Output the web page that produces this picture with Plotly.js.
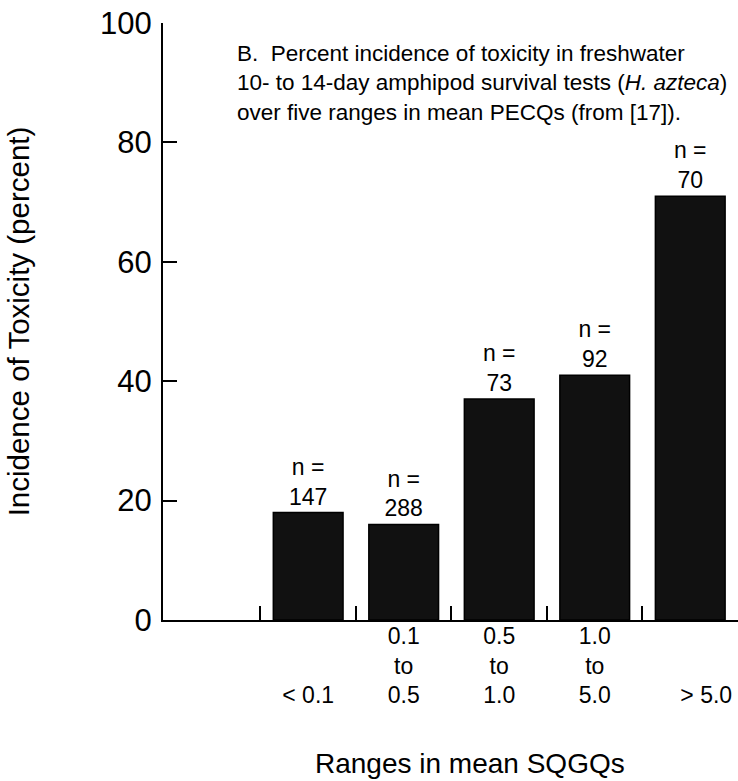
<!DOCTYPE html>
<html>
<head>
<meta charset="utf-8">
<script src="https://cdn.plot.ly/plotly-3.0.1.min.js"></script>
<style>html,body{margin:0;padding:0;background:#fff;}#chart{width:738px;height:781px;}</style>
</head>
<body>
<div id="chart"></div>
<script>
// Data
const categories = ["<0.1", "0.1-0.5", "0.5-1.0", "1.0-5.0", ">5.0"];
const tickLabels = ["<br><br>< 0.1", "0.1<br>to<br>0.5", "0.5<br>to<br>1.0", "1.0<br>to<br>5.0", "<br><br>\u00a0\u00a0\u00a0\u00a0\u00a0> 5.0"];
const incidence = [18, 16, 37, 41, 71];
const nSamples = [147, 288, 73, 92, 70];
const barText = nSamples.map(n => "n =<br>" + n);
const xTitle = "Ranges in mean SQGQs";
const yTitle = "Incidence of Toxicity (percent)";
const panelNote = "B.  Percent incidence of toxicity in freshwater<br>10- to 14-day amphipod survival tests (<i>H. azteca</i>)<br>over five ranges in mean PECQs (from [17]).";

const FONT = "Liberation Sans, Arial, Helvetica, sans-serif";

const trace = {
  type: "bar",
  x: categories,
  y: incidence,
  width: 0.73,
  marker: {color: "#111111", line: {color: "#000000", width: 1.5}},
  text: barText,
  textposition: "outside",
  textfont: {family: FONT, size: 23, color: "#000"},
  cliponaxis: false,
  constraintext: "none",
  hoverinfo: "none"
};

const layout = {
  width: 738, height: 781,
  margin: {l: 163, r: 0, t: 23, b: 161, pad: 0},
  paper_bgcolor: "#fff", plot_bgcolor: "#fff",
  showlegend: false,
  font: {family: FONT, color: "#000"},
  xaxis: {
    type: "category",
    range: [-1.52, 4.5],
    tickmode: "array",
    tickvals: categories,
    ticktext: tickLabels,
    tickson: "boundaries",
    ticks: "inside", ticklen: 14, tickwidth: 2, tickcolor: "#000",
    showline: true, linecolor: "#000", linewidth: 2,
    showgrid: false, zeroline: false,
    tickfont: {family: FONT, size: 23, color: "#000"},
    ticklabelstandoff: -6
  },
  yaxis: {
    range: [0, 100],
    tickvals: [0, 20, 40, 60, 80, 100],
    ticks: "inside", ticklen: 14, tickwidth: 2, tickcolor: "#000",
    showline: true, linecolor: "#000", linewidth: 2,
    showgrid: false, zeroline: false,
    tickfont: {family: FONT, size: 31, color: "#000"},
    ticklabelstandoff: 3,
    title: {text: yTitle, font: {family: FONT, size: 29.5, color: "#000"}, standoff: 62}
  },
  annotations: [{
    xref: "paper", yref: "paper",
    x: 0.126, y: 0.974, xanchor: "left", yanchor: "top",
    align: "left", showarrow: false,
    text: panelNote,
    font: {family: FONT, size: 22.5, color: "#000"}
  }, {
    xref: "paper", yref: "paper",
    x: 0.534, y: -0.241, xanchor: "center", yanchor: "middle",
    showarrow: false,
    text: xTitle,
    font: {family: FONT, size: 28, color: "#000"}
  }]
};

Plotly.newPlot("chart", [trace], layout, {staticPlot: true, displayModeBar: false});
</script>
</body>
</html>
